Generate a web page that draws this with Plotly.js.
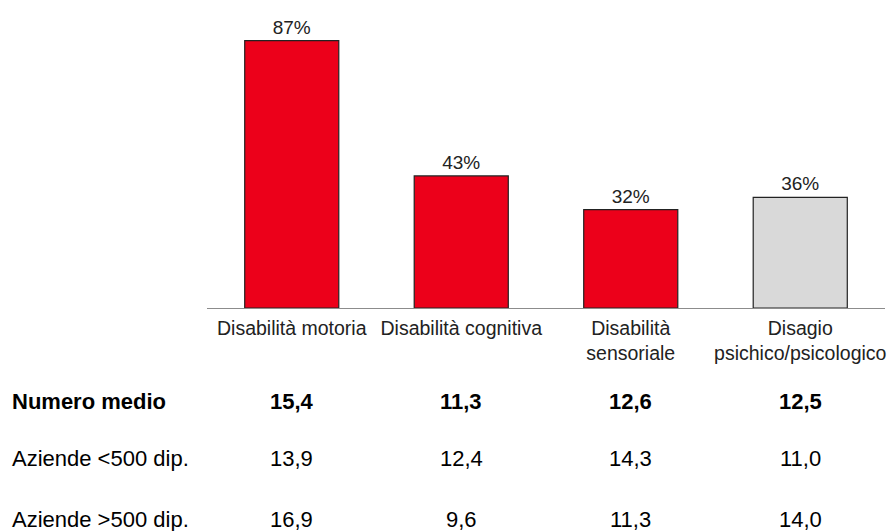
<!DOCTYPE html>
<html>
<head>
<meta charset="utf-8">
<script src="https://cdn.plot.ly/plotly-3.0.1.min.js"></script>
<style>html,body{margin:0;padding:0;background:#fff;}#chart{width:887px;height:531px;}</style>
</head>
<body>
<div id="chart"></div>
<script>
const categories = ["Disabilità motoria", "Disabilità cognitiva", "Disabilità<br>sensoriale", "Disagio<br>psichico/psicologico"];
const percentValues = [87, 43, 32, 36];
const barColors = ["#EC001A", "#EC001A", "#EC001A", "#D9D9D9"];
const rowLabels = ["Numero medio", "Aziende <500 dip.", "Aziende >500 dip."];
const numeroMedio = ["15,4", "11,3", "12,6", "12,5"];
const aziendeSotto500 = ["13,9", "12,4", "14,3", "11,0"];
const aziendeSopra500 = ["16,9", "9,6", "11,3", "14,0"];

const FONT = "Arial, 'Liberation Sans', sans-serif";
const rows = [numeroMedio, aziendeSotto500, aziendeSopra500];
const rowY = [-0.315, -0.505, -0.71];
const rowBold = [true, false, false];

const annotations = [];
rows.forEach((vals, r) => {
  annotations.push({
    xref: "paper", yref: "paper", x: -0.2906, y: rowY[r],
    xanchor: "left", yanchor: "middle", showarrow: false,
    text: rowBold[r] ? "<b>" + rowLabels[r] + "</b>" : rowLabels[r],
    font: {family: FONT, size: 22, color: "#000"}
  });
  vals.forEach((v, i) => {
    annotations.push({
      xref: "x", yref: "paper", x: categories[i], y: rowY[r],
      xanchor: "center", yanchor: "middle", showarrow: false,
      text: rowBold[r] ? "<b>" + v + "</b>" : v,
      font: {family: FONT, size: 22, color: "#000"}
    });
  });
});

const trace = {
  type: "bar",
  x: categories,
  y: percentValues,
  marker: {color: barColors, line: {color: "#222", width: 1.2}},
  text: percentValues.map(v => v + "%"),
  textposition: "outside",
  textfont: {family: FONT, size: 19, color: "#222"},
  cliponaxis: false,
  hoverinfo: "none"
};

const layout = {
  width: 887, height: 531,
  margin: {l: 207, r: 2, t: 10, b: 223},
  paper_bgcolor: "#fff", plot_bgcolor: "#fff",
  bargap: 0.445,
  showlegend: false,
  font: {family: FONT, color: "#222"},
  xaxis: {
    showline: true, linecolor: "#8c8c8c", linewidth: 1.2,
    ticks: "", showgrid: false, zeroline: false,
    ticklabelstandoff: 2,
    tickfont: {family: FONT, size: 19.5, color: "#222"},
    fixedrange: true
  },
  yaxis: {
    range: [0, 97], visible: false, showgrid: false, zeroline: false, fixedrange: true
  },
  annotations: annotations
};

Plotly.newPlot("chart", [trace], layout, {displayModeBar: false, staticPlot: true});
</script>
</body>
</html>
